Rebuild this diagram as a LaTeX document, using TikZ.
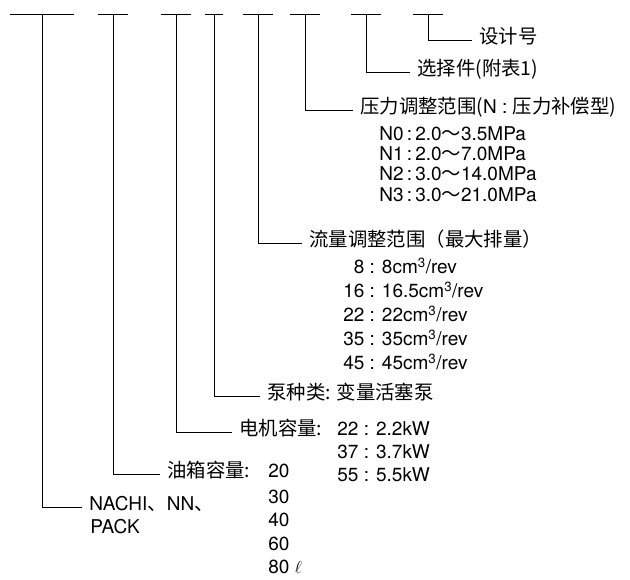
\documentclass[tikz,border=0pt]{standalone}
\usepackage{fontspec}
\setmainfont{TeX Gyre Heros}
\newfontfamily\cjk{Noto Sans CJK SC}[Scale=1.02]
\usetikzlibrary{positioning}

\tikzset{
	lbl/.style = {anchor=west, inner xsep=7pt, inner ysep=0pt, text height=0.86em, text depth=0.14em},
	val/.style = {anchor=west, inner sep=0pt, text height=0.86em, text depth=0.14em},
}

\begin{document}
\begin{tikzpicture}[x=1pt, y=-1pt, line width=0.8pt, font=\fontsize{19}{22.8}\selectfont]
	\useasboundingbox (0,0) rectangle (630,580);

	% tops of the eight code positions
	\path[shape=coordinate]
	(42,14) coordinate(T1)
	(113,14) coordinate(T2)
	(176,14) coordinate(T3)
	(214,14) coordinate(T4)
	(258,14) coordinate(T5)
	(305,14) coordinate(T6)
	(366,14) coordinate(T7)
	(428,14) coordinate(T8);

	\draw ([xshift=-32pt]T1) -- ([xshift=32pt]T1);
	\draw ([xshift=-15pt]T2) -- ([xshift=15pt]T2);
	\draw ([xshift=-15pt]T3) -- ([xshift=15pt]T3);
	\draw ([xshift=-9pt]T4) -- ([xshift=9pt]T4);
	\draw ([xshift=-15pt]T5) -- ([xshift=15pt]T5);
	\draw ([xshift=-15pt]T6) -- ([xshift=15pt]T6);
	\draw ([xshift=-15pt]T7) -- ([xshift=15pt]T7);
	\draw ([xshift=-15pt]T8) -- ([xshift=15pt]T8);

	% design number
	\draw (472,40) node[lbl] (design) {\cjk 设计号};

	% options
	\draw (410,72) node[lbl] (option) {\cjk 选择件(附表1)};

	% pressure range
	\draw (353,110) node[lbl] (press) {{\cjk 压力调整范围(}N : {\cjk 压力补偿型)}};
	\draw (379,137) node[val] (N0) {N0\,:\,2.0{\cjk ～}3.5MPa};
	\draw (379,157) node[val] (N1) {N1\,:\,2.0{\cjk ～}7.0MPa};
	\draw (379,177) node[val] (N2) {N2\,:\,3.0{\cjk ～}14.0MPa};
	\draw (379,198) node[val] (N3) {N3\,:\,3.0{\cjk ～}21.0MPa};

	% flow range
	\draw (302,243) node[lbl] (flow) {\cjk 流量调整范围（最大排量）};
	\draw (343,270) node[val] (F8) {\makebox[21pt][r]{8} : 8cm\textsuperscript{3}/rev};
	\draw (343,294) node[val] (F16) {\makebox[21pt][r]{16} : 16.5cm\textsuperscript{3}/rev};
	\draw (343,318) node[val] (F22) {\makebox[21pt][r]{22} : 22cm\textsuperscript{3}/rev};
	\draw (343,342) node[val] (F35) {\makebox[21pt][r]{35} : 35cm\textsuperscript{3}/rev};
	\draw (343,366) node[val] (F45) {\makebox[21pt][r]{45} : 45cm\textsuperscript{3}/rev};

	% pump type
	\draw (260,396) node[lbl] (pump) {\cjk 泵种类: 变量活塞泵};

	% motor
	\draw (232,432) node[lbl] (motor) {\cjk 电机容量:};
	\draw (337,432) node[val] (M22) {22 : 2.2kW};
	\draw (337,455) node[val] (M37) {37 : 3.7kW};
	\draw (337,478) node[val] (M55) {55 : 5.5kW};

	% tank
	\draw (160,474) node[lbl] (tank) {\cjk 油箱容量:};
	\draw (268,474) node[val] (V20) {20};
	\draw (268,500) node[val] (V30) {30};
	\draw (268,523) node[val] (V40) {40};
	\draw (268,547) node[val] (V60) {60};
	\draw (268,570) node[val] (V80) {80 $\ell$};

	% series
	\draw (82,507) node[lbl] (series) {NACHI{\cjk 、}NN{\cjk 、}};
	\draw (90,530) node[val] (pack) {PACK};

	% leaders
	\draw (T8) |- (design.west);
	\draw (T7) |- (option.west);
	\draw (T6) |- (press.west);
	\draw (T5) |- (flow.west);
	\draw (T4) |- (pump.west);
	\draw (T3) |- (motor.west);
	\draw (T2) |- (tank.west);
	\draw (T1) |- (series.west);
\end{tikzpicture}
\end{document}
